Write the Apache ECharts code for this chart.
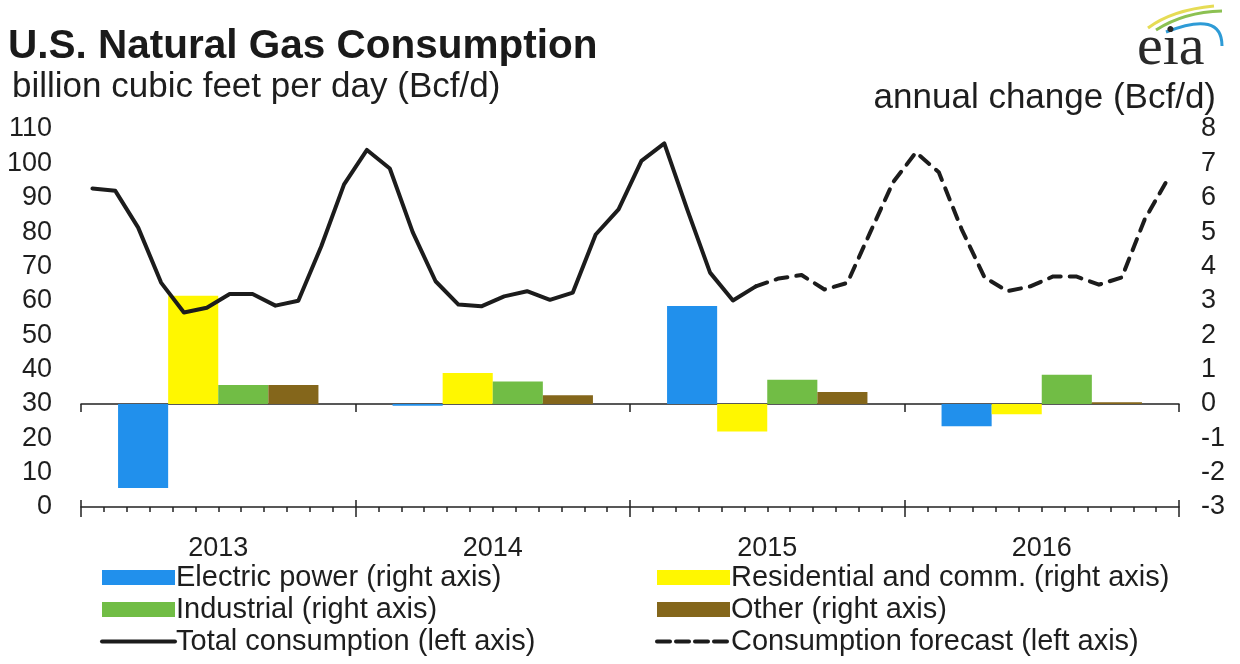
<!DOCTYPE html>
<html><head><meta charset="utf-8">
<script src="https://cdn.jsdelivr.net/npm/echarts@6/dist/echarts.min.js"></script>
<style>html,body{margin:0;padding:0;background:#fff}#c{width:1240px;height:664px}</style>
</head><body><div id="c"></div>
<script>
// ---- data ----
const years = ['2013', '2014', '2015', '2016'];
const monthNames = ['Jan','Feb','Mar','Apr','May','Jun','Jul','Aug','Sep','Oct','Nov','Dec'];
// Total consumption, monthly, Jan 2013 - Jun 2015 (left axis, Bcf/d)
const totalActual = [
  92.7, 92.0, 81.3, 65.3, 56.6, 58.0, 62.0, 62.0, 58.6, 60.0, 75.8, 93.9,
  103.9, 98.5, 80.0, 65.7, 58.9, 58.4, 61.3, 62.8, 60.3, 62.4, 79.3, 86.6,
  100.7, 105.8, 86.6, 68.2, 60.1, 64.2
];
// Consumption forecast, monthly, Jun 2015 - Dec 2016 (left axis, Bcf/d)
const totalForecast = [
  64.2, 66.5, 67.5, 63.3, 65.2, 79.9, 94.5,
  103.2, 97.4, 80.8, 66.8, 62.8, 64.2, 67.1, 67.1, 64.7, 66.8, 83.7, 95.3
];
// Annual change by sector (right axis, Bcf/d)
const electricPower = [-2.45, -0.05, 2.85, -0.65];
const residentialComm = [3.15, 0.9, -0.8, -0.3];
const industrial = [0.55, 0.65, 0.7, 0.85];
const otherSector = [0.55, 0.25, 0.35, 0.05];
const leftAxis = {min: 0, max: 110, interval: 10};
const rightAxis = {min: -3, max: 8, interval: 1};
const forecastStartIndex = 29; // Jun 2015

// ---- build ----
const months = [];
years.forEach(y => monthNames.forEach(m => months.push(m + ' ' + y)));
const actualSeries = months.map((_, i) => i < totalActual.length ? totalActual[i] : '-');
const forecastSeries = months.map((_, i) => i >= forecastStartIndex ? totalForecast[i - forecastStartIndex] : '-');

const FONT = '"Liberation Sans", Arial, sans-serif';
const TXT = '#1e1e1e';
const LINE = '#1c1c1c';

const chart = echarts.init(document.getElementById('c'), null, {renderer: 'canvas'});
const names = {
  e: 'Electric power (right axis)',
  r: 'Residential and comm. (right axis)',
  i: 'Industrial (right axis)',
  o: 'Other (right axis)',
  t: 'Total consumption (left axis)',
  f: 'Consumption forecast (left axis)'
};
const hiddenSymbol = {color: 'rgba(0,0,0,0)', borderColor: 'rgba(0,0,0,0)', borderWidth: 0, opacity: 0};
const legendCommon = {
  orient: 'vertical', itemWidth: 73, itemHeight: 15, itemGap: 3, padding: 0,
  textStyle: {fontSize: 29, color: TXT, fontFamily: FONT, padding: [0, 0, 0, -4]},
  selectedMode: false
};
chart.setOption({
  animation: false,
  backgroundColor: '#fff',
  textStyle: {fontFamily: FONT},
  title: [
    {text: 'U.S. Natural Gas Consumption', left: 8, top: 26, padding: 0,
     textStyle: {fontSize: 40.5, fontWeight: 'bold', color: '#1a1a1a', fontFamily: FONT}},
    {text: 'billion cubic feet per day (Bcf/d)', left: 12, top: 70, padding: 0,
     textStyle: {fontSize: 35, fontWeight: 'normal', color: TXT, fontFamily: FONT}},
    {text: 'annual change (Bcf/d)', right: 24, top: 81, padding: 0,
     textStyle: {fontSize: 35, fontWeight: 'normal', color: TXT, fontFamily: FONT}}
  ],
  legend: [
    Object.assign({left: 100, top: 563, data: [
      {name: names.e, icon: 'rect'}, {name: names.i, icon: 'rect'},
      {name: names.t, itemStyle: hiddenSymbol, lineStyle: {width: 4, color: LINE, type: 'solid'}}
    ]}, legendCommon),
    Object.assign({left: 655, top: 563, data: [
      {name: names.r, icon: 'rect'}, {name: names.o, icon: 'rect'},
      {name: names.f, itemStyle: hiddenSymbol, lineStyle: {width: 4, color: LINE, type: [13, 6]}}
    ]}, legendCommon)
  ],
  grid: {left: 81, right: 61, top: 129, bottom: 157, outerBoundsMode: 'none'},
  xAxis: [
    { // monthly axis for lines
      type: 'category', data: months, position: 'bottom', boundaryGap: true,
      axisLine: {onZero: false, lineStyle: {color: '#222', width: 1.5}},
      axisTick: {show: true, interval: 0, length: 5, lineStyle: {color: '#222', width: 1.5}},
      axisLabel: {show: false}, splitLine: {show: false}
    },
    { // year labels + long ticks (down)
      type: 'category', data: years, position: 'bottom', boundaryGap: true,
      axisLine: {show: false, onZero: false},
      axisTick: {show: true, interval: 0, length: 10, lineStyle: {color: '#222', width: 1.5}},
      axisLabel: {show: true, fontSize: 27, color: TXT, margin: 28, fontFamily: FONT},
      splitLine: {show: false}
    },
    { // year ticks (up)
      type: 'category', data: years, position: 'bottom', boundaryGap: true,
      axisLine: {show: false, onZero: false},
      axisTick: {show: true, inside: true, interval: 0, length: 7, lineStyle: {color: '#222', width: 1.5}},
      axisLabel: {show: false}, splitLine: {show: false}
    },
    { // zero line of the right axis, used by bars
      type: 'category', data: years, position: 'bottom', boundaryGap: true,
      axisLine: {show: true, onZero: true, onZeroAxisIndex: 1, lineStyle: {color: '#222', width: 1.5}},
      axisTick: {show: true, interval: 0, length: 8, lineStyle: {color: '#222', width: 1.5}},
      axisLabel: {show: false}, splitLine: {show: false}
    }
  ],
  yAxis: [
    {type: 'value', position: 'left', min: leftAxis.min, max: leftAxis.max, interval: leftAxis.interval,
     axisLine: {show: false}, axisTick: {show: false}, splitLine: {show: false},
     axisLabel: {fontSize: 27, color: TXT, margin: 29, fontFamily: FONT}},
    {type: 'value', position: 'right', min: rightAxis.min, max: rightAxis.max, interval: rightAxis.interval,
     axisLine: {show: false}, axisTick: {show: false}, splitLine: {show: false},
     axisLabel: {fontSize: 27, color: TXT, margin: 22, fontFamily: FONT}}
  ],
  series: [
    {name: names.e, type: 'bar', xAxisIndex: 3, yAxisIndex: 1, data: electricPower,
     itemStyle: {color: '#2190EC'}, barGap: '0%', barCategoryGap: '27%', z: 2},
    {name: names.r, type: 'bar', xAxisIndex: 3, yAxisIndex: 1, data: residentialComm,
     itemStyle: {color: '#FFF700'}, barGap: '0%', barCategoryGap: '27%', z: 2},
    {name: names.i, type: 'bar', xAxisIndex: 3, yAxisIndex: 1, data: industrial,
     itemStyle: {color: '#71BD45'}, barGap: '0%', barCategoryGap: '27%', z: 2},
    {name: names.o, type: 'bar', xAxisIndex: 3, yAxisIndex: 1, data: otherSector,
     itemStyle: {color: '#84661B'}, barGap: '0%', barCategoryGap: '27%', z: 2},
    {name: names.t, type: 'line', xAxisIndex: 0, yAxisIndex: 0, data: actualSeries,
     symbol: 'none', lineStyle: {color: LINE, width: 4, join: 'round', cap: 'round'},
     itemStyle: {color: LINE}, z: 5},
    {name: names.f, type: 'line', xAxisIndex: 0, yAxisIndex: 0, data: forecastSeries,
     symbol: 'none', lineStyle: {color: LINE, width: 4, type: [12, 9], cap: 'round', join: 'round'},
     itemStyle: {color: LINE}, z: 5}
  ],
  graphic: [
    {type: 'bezierCurve', shape: {x1: 1148, y1: 28, x2: 1214, y2: 6, cpx1: 1172, cpy1: 10},
     style: {stroke: '#E6DC55', lineWidth: 3, fill: 'none'}},
    {type: 'bezierCurve', shape: {x1: 1156, y1: 30, x2: 1222, y2: 11, cpx1: 1184, cpy1: 12},
     style: {stroke: '#8CC152', lineWidth: 3, fill: 'none'}},
    {type: 'bezierCurve', shape: {x1: 1166, y1: 32, x2: 1222, y2: 46, cpx1: 1222, cpy1: 10},
     style: {stroke: '#2E9BD6', lineWidth: 3, fill: 'none'}},
    {type: 'text', left: 1137, top: 20, style: {text: 'eia', fill: '#2a2a2a',
      font: 'normal 58px "Liberation Serif", "Times New Roman", serif'}}
  ]
});
</script>
</body></html>
